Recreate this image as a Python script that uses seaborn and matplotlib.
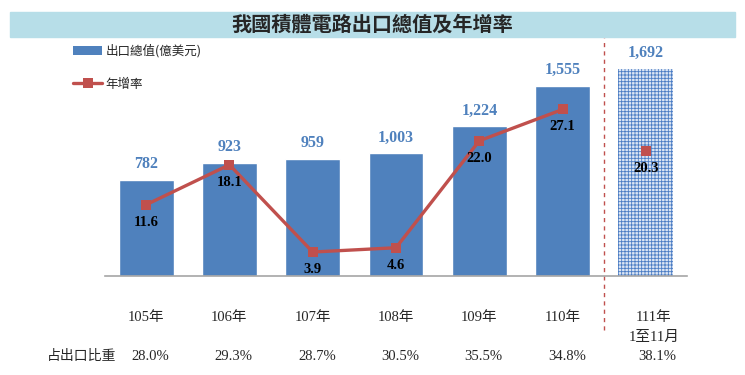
import matplotlib
matplotlib.use("Agg")
import matplotlib.pyplot as plt
import matplotlib.transforms as mtransforms
from matplotlib.patches import Patch, Rectangle
from matplotlib.lines import Line2D
import seaborn as sns
import pandas as pd

# ---- data ----
years = ["105年", "106年", "107年", "108年", "109年", "110年", "111年\n1至11月"]
export_values = [782, 923, 959, 1003, 1224, 1555, 1692]
growth_rates = [11.6, 18.1, 3.9, 4.6, 22.0, 27.1, 20.3]
share_labels = ["28.0%", "29.3%", "28.7%", "30.5%", "35.5%", "34.8%", "38.1%"]
title = "我國積體電路出口總值及年增率"
bar_label = "出口總值(億美元)"
line_label = "年增率"
share_row_label = "占出口比重"

sns.set_theme(style="white")
plt.rcParams["font.family"] = ["Liberation Serif", "Noto Sans CJK TC", "DejaVu Sans"]
plt.rcParams["hatch.linewidth"] = 0.6

BLUE = "#4f81bd"
RED = "#c0504d"
CJK = ["Noto Sans CJK TC", "DejaVu Sans"]
SERIF = ["Liberation Serif", "Noto Sans CJK TC"]

fig = plt.figure(figsize=(7.45, 3.75), dpi=100)
W, H = 745, 375

# title banner
fig.patches.append(Rectangle((10 / W, 1 - 37 / H), 725 / W, 25 / H,
                             transform=fig.transFigure, color="#b7dee8", zorder=0))
fig.text(372 / W, 1 - 24.5 / H, title, ha="center", va="center",
         fontsize=14.5, fontweight="bold", family=CJK)

ax = fig.add_axes([104.5 / W, 1 - 276 / H, 583 / W, 236 / H])
ax.patch.set_alpha(0)
df = pd.DataFrame({"year": years, "value": export_values})
sns.barplot(data=df, x="year", y="value", color=BLUE, saturation=1,
            width=0.66, ax=ax)
ax.set_xlim(-0.5, 6.5)
ax.set_ylim(0, 1931)

# hatched last bar
last = ax.patches[6]
last.set_facecolor("#dbe5f4")
last.set_edgecolor("#4a7cc4")
last.set_hatch("+++++")
last.set_linewidth(0)

for i, v in enumerate(export_values):
    ax.annotate(f"{v:,}", (i, v), xytext=(0, 11.5), textcoords="offset points",
                ha="center", va="center", color=BLUE, fontsize=11.5,
                fontweight="bold", family=SERIF)

ax.set_xlabel("")
ax.set_ylabel("")
ax.set_yticks([])
ax.tick_params(axis="x", length=0, pad=25, labelsize=10.5)
shift = mtransforms.ScaledTranslation(8 / 100, 0, fig.dpi_scale_trans)
for k, lab in enumerate(ax.get_xticklabels()):
    lab.set_family(SERIF)
    lab.set_linespacing(1.75)
    if k == 6:
        lab.set_transform(lab.get_transform() + shift)
for s in ["top", "left", "right"]:
    ax.spines[s].set_visible(False)
ax.spines["bottom"].set_color("#a6a6a6")
ax.spines["bottom"].set_linewidth(1.2)

ax2 = ax.twinx()
ax2.set_ylim(0, 38.4)
sns.lineplot(x=list(range(6)), y=growth_rates[:6], ax=ax2, color=RED,
             linewidth=2.4, marker="s", markersize=7, markeredgewidth=0)
sns.scatterplot(x=[6], y=[growth_rates[6]], ax=ax2, color=RED, marker="s",
                s=50, linewidth=0)
for i, g in enumerate(growth_rates):
    ax2.annotate(f"{g:.1f}", (i, g), xytext=(0, -12.5), textcoords="offset points",
                 ha="center", va="center", color="black", fontsize=10.5,
                 fontweight="bold", family=SERIF)
ax2.set_yticks([])
ax2.set_ylabel("")
for s in ax2.spines.values():
    s.set_visible(False)

# dashed separator
ax.axvline(5.5, ymin=-0.229, ymax=1.01, clip_on=False, color=RED,
           linestyle=(0, (3, 3)), linewidth=1)

# share row
trans = mtransforms.blended_transform_factory(ax.transData, fig.transFigure)
for i, s in enumerate(share_labels):
    xo = 0.14 if i == 6 else 0.05
    ax.text(i + xo, 1 - 356 / H, s, transform=trans, ha="center", va="center",
            fontsize=10.5, family=SERIF)
fig.text(82 / W, 1 - 356 / H, share_row_label, ha="center", va="center",
         fontsize=10, family=CJK)

# legend
handles = [Patch(facecolor=BLUE, edgecolor="none"),
           Line2D([], [], color=RED, linewidth=2.4, marker="s", markersize=7,
                  markeredgewidth=0)]
fig.legend(handles, [bar_label, line_label], loc="upper left",
           bbox_to_anchor=(62 / W, 1 - 33 / H), frameon=False,
           prop={"family": CJK, "size": 9}, handlelength=2.3,
           handletextpad=0.3, labelspacing=1.6)

fig.savefig("out.png", dpi=100)
